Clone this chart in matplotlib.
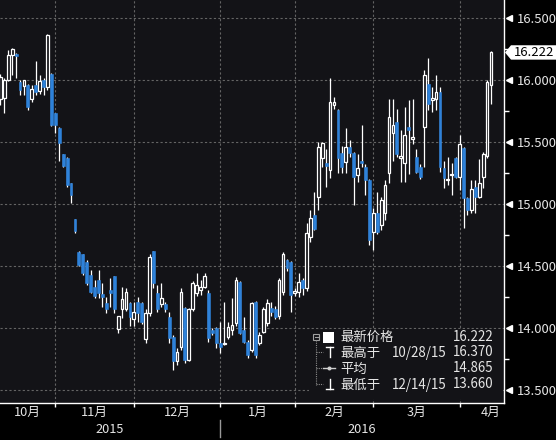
import matplotlib
matplotlib.use('Agg')
import matplotlib.pyplot as plt
import matplotlib.transforms as mtransforms
from matplotlib.patches import Polygon, Rectangle, Circle
from matplotlib.lines import Line2D
import numpy as np

plt.rcParams['font.family'] = ['Noto Sans CJK SC', 'DejaVu Sans']

# ---------------- data (daily OHLC, trading-day order) ----------------
opens = [15.85, 15.855, 16.00, 16.20, 16.21, 15.98, 15.95, 15.96, 15.85, 15.96,
         15.91, 16.00, 15.94, 16.05, 15.73, 15.61, 15.40, 15.37, 15.17, 14.88,
         14.61, 14.60, 14.53, 14.43, 14.33, 14.39, 14.27, 14.20, 14.31, 14.42,
         13.99, 14.15, 14.15, 14.20, 14.07, 14.21, 14.20, 13.91, 14.12, 14.62,
         14.28, 14.19, 14.19, 14.09, 13.93, 13.73, 13.85, 14.16, 13.74, 14.15,
         14.28, 14.31, 14.33, 14.28, 13.98, 14.00, 13.88, 13.87, 13.93, 13.98,
         14.04, 14.37, 13.98, 13.89, 13.82, 14.21, 13.88, 13.97, 14.04, 14.16,
         14.15, 14.10, 14.29, 14.55, 14.53, 14.28, 14.29, 14.39, 14.32, 14.73,
         14.91, 15.06, 15.37, 15.33, 15.27, 15.80, 15.76, 15.41, 15.34, 15.46,
         15.41, 15.23, 15.35, 15.30, 15.19, 14.77, 14.93, 14.83, 14.93, 15.25,
         15.57, 15.66, 15.37, 15.33, 15.62, 15.52, 15.38, 15.30, 15.62, 15.97,
         15.84, 15.85, 15.90, 15.29, 15.19, 15.23, 15.37, 15.22, 15.45, 15.05,
         14.95, 15.14, 15.06, 15.22, 15.39, 15.96]
highs = [16.05, 16.02, 16.24, 16.26, 16.22, 16.00, 16.00, 15.97, 15.96, 16.15,
         16.04, 16.02, 16.37, 16.06, 15.73, 15.62, 15.40, 15.38, 15.17, 14.88,
         14.62, 14.60, 14.55, 14.47, 14.39, 14.47, 14.36, 14.25, 14.40, 14.42,
         14.10, 14.33, 14.32, 14.21, 14.21, 14.25, 14.21, 14.15, 14.60, 14.62,
         14.35, 14.36, 14.21, 14.13, 13.94, 13.84, 14.32, 14.17, 14.16, 14.38,
         14.44, 14.39, 14.44, 14.31, 14.00, 14.01, 14.05, 14.21, 14.05, 14.24,
         14.41, 14.38, 14.09, 13.90, 14.21, 14.22, 13.97, 14.17, 14.23, 14.21,
         14.18, 14.40, 14.61, 14.56, 14.54, 14.32, 14.44, 14.40, 14.85, 14.95,
         15.10, 15.50, 15.50, 15.44, 16.02, 15.86, 15.77, 15.47, 15.61, 15.52,
         15.42, 15.40, 15.64, 15.32, 15.20, 14.97, 15.10, 15.06, 15.19, 15.85,
         15.85, 15.77, 15.60, 15.78, 15.84, 15.85, 15.44, 15.32, 16.08, 16.18,
         15.94, 16.04, 15.94, 15.35, 15.38, 15.33, 15.38, 15.56, 15.46, 15.06,
         15.19, 15.19, 15.36, 15.42, 16.00, 16.23]
lows = [15.80, 15.73, 15.99, 16.04, 16.02, 15.88, 15.88, 15.76, 15.82, 15.88,
        15.89, 15.88, 15.92, 15.63, 15.57, 15.35, 15.30, 15.14, 15.01, 14.77,
        14.50, 14.43, 14.35, 14.28, 14.24, 14.24, 14.17, 14.12, 14.17, 14.12,
        13.96, 14.08, 14.14, 14.02, 14.02, 14.05, 14.03, 13.88, 14.10, 14.32,
        14.13, 14.17, 14.13, 13.88, 13.66, 13.70, 13.82, 13.72, 13.73, 14.14,
        14.26, 14.27, 14.32, 13.89, 13.94, 13.84, 13.80, 13.86, 13.91, 13.94,
        14.02, 13.95, 13.88, 13.76, 13.81, 13.76, 13.86, 13.96, 14.02, 14.10,
        14.07, 14.07, 14.27, 14.46, 14.13, 14.26, 14.25, 14.27, 14.30, 14.69,
        14.79, 14.95, 15.30, 15.14, 15.21, 15.77, 15.25, 15.25, 15.25, 15.38,
        14.99, 15.18, 15.30, 15.07, 14.67, 14.63, 14.76, 14.79, 14.87, 15.17,
        15.35, 15.38, 15.18, 15.18, 15.24, 15.48, 15.25, 15.20, 15.30, 15.76,
        15.74, 15.76, 15.26, 15.13, 15.15, 15.07, 15.21, 15.11, 14.81, 14.91,
        14.93, 14.93, 15.05, 15.13, 15.37, 15.81]
closes = [16.02, 16.00, 16.20, 16.25, 16.19, 15.92, 16.00, 15.78, 15.93, 15.90,
          15.99, 15.94, 16.36, 15.64, 15.64, 15.49, 15.31, 15.15, 15.07, 14.78,
          14.51, 14.44, 14.36, 14.29, 14.26, 14.28, 14.25, 14.15, 14.28, 14.15,
          14.10, 14.23, 14.29, 14.09, 14.13, 14.12, 14.05, 14.12, 14.57, 14.36,
          14.15, 14.24, 14.15, 13.92, 13.73, 13.81, 14.29, 13.74, 14.15, 14.36,
          14.35, 14.33, 14.42, 13.92, 13.96, 13.88, 13.85, 13.88, 14.01, 14.02,
          14.39, 13.96, 13.89, 13.78, 14.20, 13.78, 13.94, 14.15, 14.20, 14.13,
          14.09, 14.39, 14.60, 14.48, 14.27, 14.30, 14.37, 14.32, 14.77, 14.89,
          14.80, 15.46, 15.49, 15.31, 15.82, 15.82, 15.37, 15.30, 15.46, 15.41,
          15.22, 15.29, 15.33, 15.19, 14.71, 14.93, 14.77, 15.03, 15.15, 15.70,
          15.64, 15.40, 15.39, 15.56, 15.60, 15.54, 15.26, 15.22, 16.04, 15.81,
          15.85, 15.90, 15.30, 15.21, 15.20, 15.24, 15.22, 15.48, 15.05, 14.95,
          15.12, 15.06, 15.17, 15.40, 15.98, 16.222]

month_labels = ['10月', '11月', '12月', '1月', '2月', '3月', '4月']
month_start = [0, 14, 34, 56, 75, 95, 117]     # index of first trading day
year_labels = ['2015', '2016']
year_start = [0, 56]

y_ticks = [13.5, 14.0, 14.5, 15.0, 15.5, 16.0, 16.5]
y_tick_labels = ['13.500', '14.000', '14.500', '15.000', '15.500', '16.000', '16.500']

last_price = 16.222
last_label = '16.222'
legend_rows = ['最新价格', '最高于', '平均', '最低于']
legend_dates = ['', '10/28/15', '', '12/14/15']
legend_values = ['16.222', '16.370', '14.865', '13.660']

# ---------------- styling ----------------
W, H = 556, 440
BG = '#131317'
BLUE = '#2e82da'
TXT = '#e6e6e6'
GRID = '#646464'

fig = plt.figure(figsize=(W / 100, H / 100), dpi=100, facecolor='black')
ax = fig.add_axes([0, 1 - 403 / H, 504 / W, 403 / H])
ax.set_facecolor(BG)

x_lo, x_hi = -0.1, 128.3
y_lo, y_hi = 13.395, 16.645
ax.set_xlim(x_lo, x_hi)
ax.set_ylim(y_lo, y_hi)

o = np.array(opens); h = np.array(highs); l = np.array(lows); c = np.array(closes)
idx = np.arange(len(o))
up = c >= o

# wicks
ax.vlines(idx, l, h, color='white', lw=0.9, zorder=3)
body_lo = np.minimum(o, c)
body_h = np.maximum(np.abs(c - o), 0.012)
ax.bar(idx[up], body_h[up], bottom=body_lo[up], width=0.7,
       facecolor=BG, edgecolor='white', linewidth=0.9, zorder=4)
ax.bar(idx[~up], body_h[~up], bottom=body_lo[~up], width=0.72,
       facecolor=BLUE, edgecolor=BLUE, linewidth=0.4, zorder=4)

# grid / ticks
ax.set_xticks(month_start[1:])
ax.set_yticks(y_ticks)
ax.set_yticklabels(y_tick_labels)
ax.set_yticks([v + 0.25 for v in y_ticks[:-1]], minor=True)
ax.grid(True, which='major', color=GRID, linestyle=(0, (2, 2)), linewidth=0.8)
ax.set_axisbelow(True)
ax.yaxis.tick_right()
ax.tick_params(axis='x', which='major', length=3, width=1, color='white',
               direction='out', labelbottom=False)
ax.tick_params(axis='y', which='major', length=0, pad=9, labelcolor=TXT,
               labelsize=9.4)
ax.tick_params(axis='y', which='minor', length=3.6, width=1, color='white',
               direction='out')
for s in ['left', 'top']:
    ax.spines[s].set_visible(False)
for s in ['right', 'bottom']:
    ax.spines[s].set_color('white')
    ax.spines[s].set_linewidth(1.0)

# triangle markers on the price axis
ax.plot([1.0 + 4.5 / 504] * len(y_ticks), y_ticks, marker='<', ms=5,
        color='white', ls='none', transform=ax.get_yaxis_transform(),
        clip_on=False, zorder=6)

# last price tag
yc = (last_price - y_lo) / (y_hi - y_lo)
hh = 7.2 / 403
pts = [(1.002, yc), (1.0139, yc + hh), (1.11, yc + hh), (1.11, yc - hh), (1.0139, yc - hh)]
ax.add_patch(Polygon(pts, closed=True, transform=ax.transAxes, facecolor='white',
                     edgecolor='none', clip_on=False, zorder=7))
ax.text(1.0195, yc, last_label, transform=ax.transAxes, color='black', fontsize=9.4,
        ha='left', va='center', zorder=8, clip_on=False)

# month labels
xt = ax.get_xaxis_transform()
bounds = month_start[1:] + [None]
for i, lab in enumerate(month_labels):
    a = month_start[i] if i > 0 else x_lo
    b = bounds[i]
    xm = (a + b) / 2 if b is not None else len(o) - 1
    ax.text(xm, -9.5 / 403, lab, transform=xt, color=TXT, fontsize=9.2,
            ha='center', va='center', clip_on=False)
# year labels
ystarts = [x_lo] + year_start[1:]
yends = year_start[1:] + [x_hi]
for lab, a, b in zip(year_labels, ystarts, yends):
    ax.text((a + b) / 2, -26 / 403, lab, transform=xt, color=TXT, fontsize=9.2,
            ha='center', va='center', clip_on=False)
for ys in year_start[1:]:
    ax.add_line(Line2D([ys, ys], [-17 / 403, -34 / 403], transform=xt,
                       color='#9a9a9a', lw=1, clip_on=False))

# ---------------- legend (figure pixel coords) ----------------
tr = mtransforms.Affine2D().scale(1 / W, -1 / H).translate(0, 1) + fig.transFigure
fig.add_artist(Rectangle((309, 329), 194, 70, transform=tr, facecolor=BG,
                         edgecolor='none', zorder=1))
rows_y = [337, 352.5, 368.5, 384.5]
# tree
fig.add_artist(Rectangle((313, 334), 6, 6, transform=tr, facecolor='none',
                         edgecolor='#a0a0a0', lw=0.8, zorder=2))
fig.add_artist(Line2D([314.5, 317.5], [337, 337], transform=tr, color='#a0a0a0', lw=0.8, zorder=2))
fig.add_artist(Line2D([316, 316], [340, 385], transform=tr, color='#8a8a8a',
                      lw=0.8, ls=(0, (1, 1)), zorder=2))
for ry in rows_y[1:]:
    fig.add_artist(Line2D([316, 323], [ry, ry], transform=tr, color='#8a8a8a',
                          lw=0.8, ls=(0, (1, 1)), zorder=2))
# icons
fig.add_artist(Rectangle((323, 332), 11, 11, transform=tr, facecolor='white',
                         edgecolor='none', zorder=2))
fig.add_artist(Line2D([326, 333], [347.5, 347.5], transform=tr, color='white', lw=1, zorder=2))
fig.add_artist(Line2D([329.5, 329.5], [347.5, 357.5], transform=tr, color='white', lw=1, zorder=2))
fig.add_artist(Line2D([323, 335], [368.5, 368.5], transform=tr, color='#cfcfcf', lw=1, zorder=2))
fig.add_artist(Circle((329.5, 368.5), 2, transform=tr, facecolor='#cfcfcf',
                      edgecolor='none', zorder=3))
fig.add_artist(Line2D([329.5, 329.5], [379.5, 389.5], transform=tr, color='white', lw=1, zorder=2))
fig.add_artist(Line2D([326, 333], [389.5, 389.5], transform=tr, color='white', lw=1, zorder=2))
# texts
for ry, name, dt, val in zip(rows_y, legend_rows, legend_dates, legend_values):
    fig.text(340, ry, name, transform=tr, color=TXT, fontsize=9.6, ha='left', va='center')
    if dt:
        fig.text(447, ry, dt, transform=tr, color=TXT, fontsize=9.6, ha='right', va='center')
    fig.text(493, ry, val, transform=tr, color=TXT, fontsize=9.6, ha='right', va='center')

fig.savefig('out.png', dpi=100, facecolor='black')
